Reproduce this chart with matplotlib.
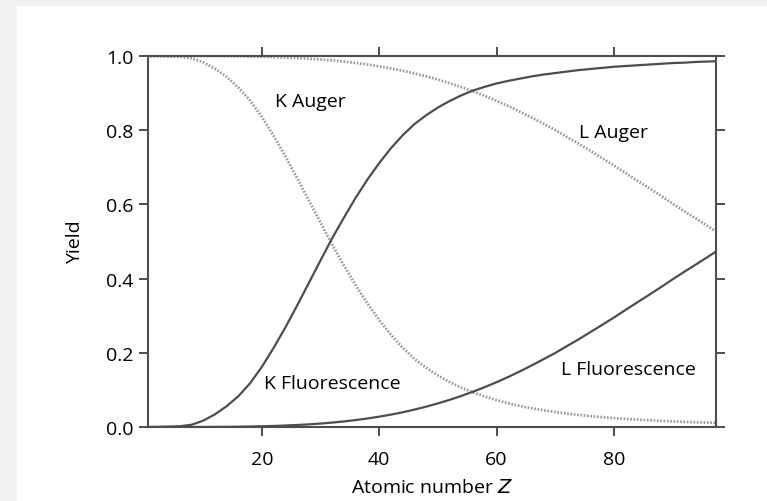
import matplotlib
matplotlib.use("Agg")
import matplotlib.pyplot as plt
from matplotlib.patches import Rectangle

z = [1, 2, 4, 6, 8, 10, 12, 14, 16, 18, 20, 22, 24, 26, 28, 30, 32, 34, 36, 38,
     40, 42, 44, 46, 48, 50, 52, 54, 56, 58, 60, 62, 64, 66, 68, 70, 72, 74, 76,
     78, 80, 82, 84, 86, 88, 90, 92, 94, 96, 97.4]

k_fluor = [0.0, 0.0001, 0.001, 0.002, 0.006, 0.017, 0.034, 0.056, 0.083, 0.118,
           0.162, 0.213, 0.268, 0.327, 0.388, 0.449, 0.5092, 0.5646, 0.6182, 0.6671,
           0.7113, 0.7514, 0.7863, 0.8164, 0.8402, 0.8611, 0.8787, 0.894, 0.907, 0.917,
           0.926, 0.933, 0.939, 0.945, 0.950, 0.954, 0.958, 0.962, 0.965, 0.968,
           0.971, 0.973, 0.975, 0.977, 0.979, 0.981, 0.982, 0.984, 0.985, 0.986]

k_auger = [1.0, 0.9999, 0.999, 0.998, 0.994, 0.983, 0.966, 0.944, 0.915, 0.880,
           0.836, 0.785, 0.730, 0.671, 0.611, 0.551, 0.4908, 0.4354, 0.3818, 0.3329,
           0.2887, 0.2486, 0.2137, 0.1836, 0.1598, 0.1389, 0.1213, 0.106, 0.0931, 0.082,
           0.0723, 0.0639, 0.0567, 0.0504, 0.045, 0.0404, 0.0361, 0.0325, 0.0293, 0.0265,
           0.024, 0.0218, 0.0198, 0.0181, 0.0166, 0.0151, 0.0139, 0.0128, 0.0118, 0.0111]

l_fluor = [0.0, 0.0, 0.0, 0.0, 0.0001, 0.0001, 0.0003, 0.0005, 0.0008, 0.0013,
           0.002, 0.0028, 0.004, 0.0054, 0.0071, 0.0093, 0.0119, 0.015, 0.0187, 0.023,
           0.0278, 0.0334, 0.0397, 0.0469, 0.0548, 0.0636, 0.0732, 0.0838, 0.0952, 0.1075,
           0.1208, 0.1349, 0.1501, 0.166, 0.1827, 0.1996, 0.2181, 0.2364, 0.2558, 0.2753,
           0.2951, 0.3157, 0.3361, 0.3562, 0.3768, 0.398, 0.4185, 0.4383, 0.4586, 0.473]

l_auger = [1.0, 1.0, 1.0, 1.0, 0.9999, 0.9999, 0.9997, 0.9995, 0.9992, 0.9987,
           0.998, 0.9972, 0.996, 0.9946, 0.9929, 0.9907, 0.9881, 0.985, 0.9813, 0.977,
           0.9722, 0.9666, 0.9603, 0.9531, 0.9452, 0.9364, 0.9268, 0.9162, 0.9048, 0.8925,
           0.8792, 0.8651, 0.8499, 0.834, 0.8173, 0.8004, 0.7819, 0.7636, 0.7442, 0.7247,
           0.7049, 0.6843, 0.6639, 0.6438, 0.6232, 0.602, 0.5815, 0.5617, 0.5414, 0.527]

x_ticks = [20, 40, 60, 80]
y_ticks = [0.0, 0.2, 0.4, 0.6, 0.8, 1.0]

plt.rcParams['font.family'] = ['Open Sans', 'DejaVu Sans']
fs = 14

fig = plt.figure(figsize=(7.67, 5.02), dpi=100, facecolor='#f2f2f2')
# white panel inside the grey frame
fig.patches.append(Rectangle((17 / 767, 0), 1, 1 - 7 / 502, transform=fig.transFigure,
                             facecolor='white', edgecolor='none', zorder=-10))

ax = fig.add_axes([148 / 767, 1 - 428 / 502, (716 - 148) / 767, (428 - 57) / 502])
ax.set_facecolor('white')

dark = '#4d4d4d'
light = '#999999'
dots = (0, (0.6, 0.6))

ax.plot(z, k_auger, color=light, lw=2.0, linestyle=dots)
ax.plot(z, l_auger, color=light, lw=2.0, linestyle=dots)
ax.plot(z, k_fluor, color=dark, lw=1.6)
ax.plot(z, l_fluor, color=dark, lw=1.6)

ax.text(22.2, 0.879, 'K Auger', fontsize=fs, va='center', ha='left')
ax.text(74.1, 0.795, 'L Auger', fontsize=fs, va='center', ha='left')
ax.text(20.3, 0.119, 'K Fluorescence', fontsize=fs, va='center', ha='left')
ax.text(70.9, 0.156, 'L Fluorescence', fontsize=fs, va='center', ha='left')

ax.set_xlim(0.6, 97.4)
ax.set_ylim(0.0, 1.0)
ax.set_xticks(x_ticks)
ax.set_yticks(y_ticks)
ax.set_yticklabels(['%.1f' % v for v in y_ticks])

for s in ax.spines.values():
    s.set_color(dark)
    s.set_linewidth(1.5)

ax.tick_params(direction='out', length=6.5, width=1.4, color=dark, labelsize=fs,
               top=True, right=True, labeltop=False, labelright=False)
ax.tick_params(axis='x', pad=10)
ax.tick_params(axis='y', pad=4)

ax.set_xlabel('Atomic number $\\mathit{Z}$', fontsize=fs, labelpad=7)
ax.set_ylabel('Yield', fontsize=fs, labelpad=16)

fig.savefig('out.png', dpi=100, facecolor=fig.get_facecolor())
